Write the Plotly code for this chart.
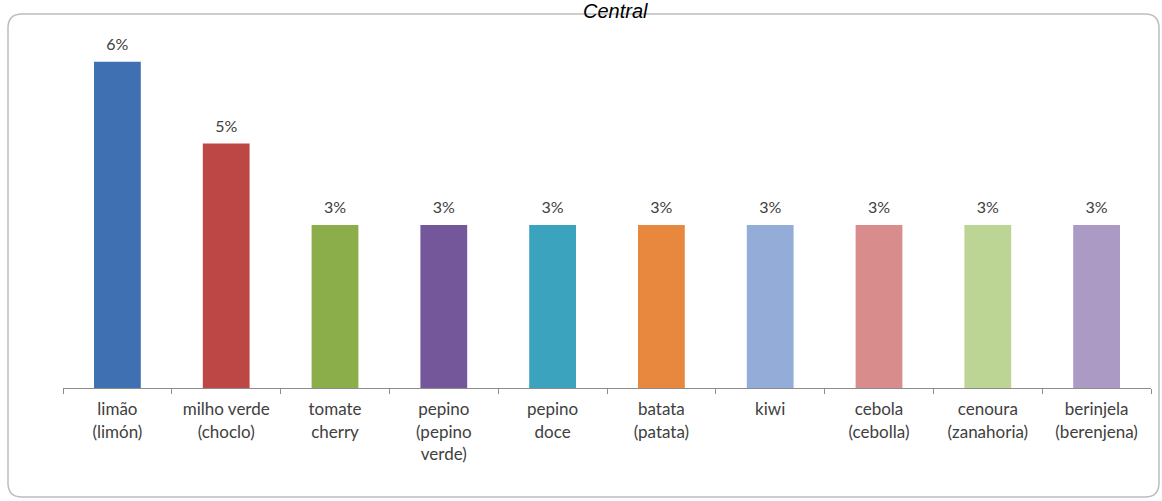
import plotly.graph_objects as go

categories = ["limão<br>(limón)", "milho verde<br>(choclo)", "tomate<br>cherry",
              "pepino<br>(pepino<br>verde)", "pepino<br>doce", "batata<br>(patata)",
              "kiwi", "cebola<br>(cebolla)", "cenoura<br>(zanahoria)", "berinjela<br>(berenjena)"]
values = [0.06, 0.045, 0.03, 0.03, 0.03, 0.03, 0.03, 0.03, 0.03, 0.03]
value_labels = ["6%", "5%", "3%", "3%", "3%", "3%", "3%", "3%", "3%", "3%"]
bar_colors = ["#3f70b2", "#bd4744", "#8bad4a", "#74569a", "#3ba3bd",
              "#e8883e", "#94acd8", "#d98c8c", "#bcd494", "#ab9bc4"]

W, H = 1162, 501
ml, mr, mt, mb = 63, 11, 20, 113
pw, ph = W - ml - mr, H - mt - mb

def px(x):
    return (x - ml) / pw

def py(y):
    return (H - mb - y) / ph

fig = go.Figure()
fig.add_trace(go.Bar(
    x=categories, y=values, marker=dict(color=bar_colors, line=dict(width=0)),
    width=0.43, hoverinfo="skip",
))
fig.add_trace(go.Scatter(
    x=categories, y=values, mode="markers+text",
    marker=dict(size=11, color="rgba(0,0,0,0)"),
    text=value_labels, textposition="top center", cliponaxis=False,
    textfont=dict(family="Lato, Open Sans, sans-serif", size=16, color="#404040"),
))

# rounded chart box
x0, x1, y0, y1, r = 8, 1159, 14, 497, 14
path = (f"M {px(x0 + r)} {py(y0)} L {px(x1 - r)} {py(y0)} "
        f"Q {px(x1)} {py(y0)} {px(x1)} {py(y0 + r)} L {px(x1)} {py(y1 - r)} "
        f"Q {px(x1)} {py(y1)} {px(x1 - r)} {py(y1)} L {px(x0 + r)} {py(y1)} "
        f"Q {px(x0)} {py(y1)} {px(x0)} {py(y1 - r)} L {px(x0)} {py(y0 + r)} "
        f"Q {px(x0)} {py(y0)} {px(x0 + r)} {py(y0)} Z")
fig.add_shape(type="path", path=path, xref="paper", yref="paper",
              line=dict(color="#bdbdbd", width=1.5), fillcolor="rgba(0,0,0,0)", layer="below")

fig.add_annotation(text="<i>Central</i>", x=px(615), y=py(-2), xref="paper", yref="paper",
                   xanchor="center", yanchor="top", showarrow=False,
                   font=dict(family="Liberation Sans, Arial, sans-serif", size=20, color="#000000"))

fig.update_layout(
    width=W, height=H,
    margin=dict(l=ml, r=mr, t=mt, b=mb),
    paper_bgcolor="white", plot_bgcolor="white",
    showlegend=False,
    xaxis=dict(showline=True, linecolor="#8c8c8c", linewidth=1, range=[-0.5, 9.5],
               ticks="outside", tickson="boundaries", ticklen=5, tickcolor="#8c8c8c",
               tickangle=0, ticklabelstandoff=6,
               tickfont=dict(family="Lato, Open Sans, sans-serif", size=17, color="#404040"),
               showgrid=False),
    yaxis=dict(visible=False, range=[0, 0.0677], showgrid=False, zeroline=False),
)

fig.write_html("out.html")
